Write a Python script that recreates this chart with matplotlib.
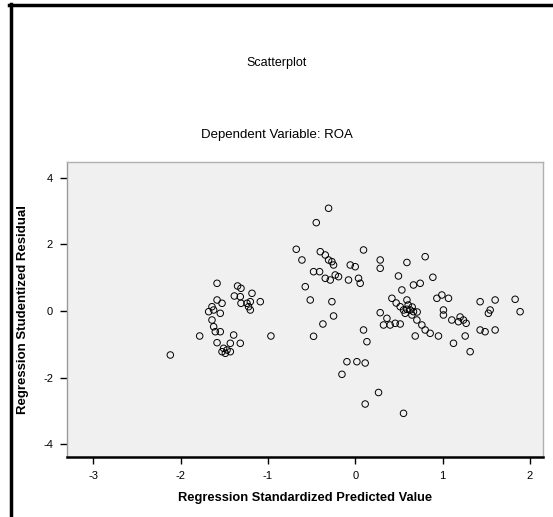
import matplotlib
matplotlib.use("Agg")
import matplotlib.pyplot as plt
from matplotlib.lines import Line2D

# Data: Regression standardized predicted value vs studentized residual
pred = [
    # left cluster
    -1.582, -1.347, -1.308, -1.384, -1.316, -1.182, -1.201, -1.239, -1.087, -1.308,
    -1.201, -1.221, -1.582, -1.525, -1.640, -1.678, -1.621, -1.545, -1.640, -1.621,
    -1.602, -1.545, -1.781, -1.392, -0.965, -1.582, -1.316, -1.430, -1.507, -1.468,
    -1.525, -1.430, -2.117, -1.487,
    # middle upper cluster
    -0.305, -0.446, -0.675, -0.610, -0.400, -0.343, -0.305, -0.267, -0.248, -0.477,
    -0.408, -0.343, -0.286, -0.229, -0.191, -0.057, 0.000, -0.077, 0.038, 0.057,
    0.095, 0.286, 0.286, 0.495, 0.592, -0.572, -0.515, -0.267, -0.248, -0.370,
    -0.477, 0.801, 0.889,
    # lower middle
    0.095, 0.134, -0.095, 0.019, 0.114, -0.152, 0.267, 0.114, 0.553,
    # center-right cluster
    0.667, 0.744, 0.534, 0.420, 0.592, 0.515, 0.553, 0.592, 0.629, 0.667,
    0.572, 0.649, 0.935, 0.992, 1.068, 1.010, 1.010, 0.363, 0.324, 0.400,
    0.458, 0.515, 0.706, 0.763, 0.801, 0.858, 0.953, 0.687, 1.106, 1.182,
    1.239, 1.270, 1.259, 1.125, 1.316, 1.430, 1.602, 1.545, 1.525, 1.831,
    1.888, 1.430, 1.487, 1.602, 0.286, 0.606, 0.652, 0.709, 0.469, 1.201,
]
resid = [
    # left cluster
    0.833, 0.752, 0.683, 0.451, 0.430, 0.532, 0.280, 0.232, 0.280, 0.232,
    0.030, 0.129, 0.331, 0.232, 0.129, -0.021, 0.030, -0.069, -0.271, -0.472,
    -0.623, -0.623, -0.752, -0.722, -0.752, -0.953, -0.971, -0.971, -1.122, -1.173,
    -1.224, -1.224, -1.323, -1.272,
    # middle upper cluster
    3.089, 2.656, 1.856, 1.534, 1.783, 1.684, 1.534, 1.483, 1.383, 1.182,
    1.182, 0.983, 0.932, 1.083, 1.032, 1.383, 1.332, 0.932, 0.983, 0.833,
    1.835, 1.534, 1.284, 1.053, 1.459, 0.731, 0.331, 0.280, -0.150, -0.391,
    -0.761, 1.633, 1.014,
    # lower middle
    -0.571, -0.923, -1.525, -1.525, -1.564, -1.904, -2.451, -2.797, -3.077,
    # center-right cluster
    0.782, 0.833, 0.632, 0.382, 0.331, 0.129, 0.030, 0.051, 0.030, -0.021,
    -0.069, -0.120, 0.382, 0.481, 0.382, 0.030, -0.120, -0.220, -0.421, -0.421,
    -0.370, -0.391, -0.271, -0.421, -0.571, -0.671, -0.752, -0.752, -0.271, -0.322,
    -0.271, -0.370, -0.752, -0.971, -1.224, 0.280, 0.331, 0.030, -0.069, 0.352,
    -0.021, -0.571, -0.623, -0.571, -0.051, 0.180, 0.120, -0.030, 0.241, -0.180,
]

xticks = [-3, -2, -1, 0, 1, 2]
yticks = [4, 2, 0, -2, -4]

title = "Scatterplot"
subtitle = "Dependent Variable: ROA"
xlabel = "Regression Standardized Predicted Value"
ylabel = "Regression Studentized Residual"

plt.rcParams['font.family'] = ['Liberation Sans', 'DejaVu Sans']

W, H = 553, 517
fig = plt.figure(figsize=(W / 100, H / 100), dpi=100)
fig.patch.set_facecolor('white')

l, r, t, b = 67, 543, 162, 457
ax = fig.add_axes([l / W, 1 - b / H, (r - l) / W, (b - t) / H])
ax.set_facecolor('#f0f0f0')
ax.scatter(pred, resid, s=22, facecolors='none', edgecolors='black', linewidths=0.7, zorder=3)

ax.set_xlim(-3.30, 2.15)
ax.set_ylim(-4.39, 4.48)
ax.set_xticks(xticks)
ax.set_xticklabels([str(v) for v in xticks])
ax.set_yticks(yticks)
ax.set_yticklabels([str(v) for v in yticks])
ax.tick_params(axis='both', direction='out', length=5, width=1, labelsize=8, colors='black', pad=5)

for side in ['top', 'right']:
    ax.spines[side].set_color('#b0b0b0')
    ax.spines[side].set_linewidth(1.0)
ax.spines['left'].set_color('#9a9a9a')
ax.spines['left'].set_linewidth(1.0)
ax.spines['bottom'].set_color('black')
ax.spines['bottom'].set_linewidth(1.8)

ax.set_xlabel(xlabel, fontsize=9.3, fontweight='bold', labelpad=8)
ax.set_ylabel(ylabel, fontsize=9.5, fontweight='bold', labelpad=10)

fig.text(277 / W, 1 - 63 / H, title, ha='center', va='center', fontsize=9)
fig.text(277 / W, 1 - 135 / H, subtitle, ha='center', va='center', fontsize=9.5)

# Black frame on top and left edges
fig.add_artist(Line2D([10.5 / W, 10.5 / W], [0, 1 - 4 / H], transform=fig.transFigure, color='black', linewidth=2.5))
fig.add_artist(Line2D([9 / W, 1], [1 - 4.5 / H, 1 - 4.5 / H], transform=fig.transFigure, color='black', linewidth=2.5))

fig.savefig('out.png', dpi=100)
